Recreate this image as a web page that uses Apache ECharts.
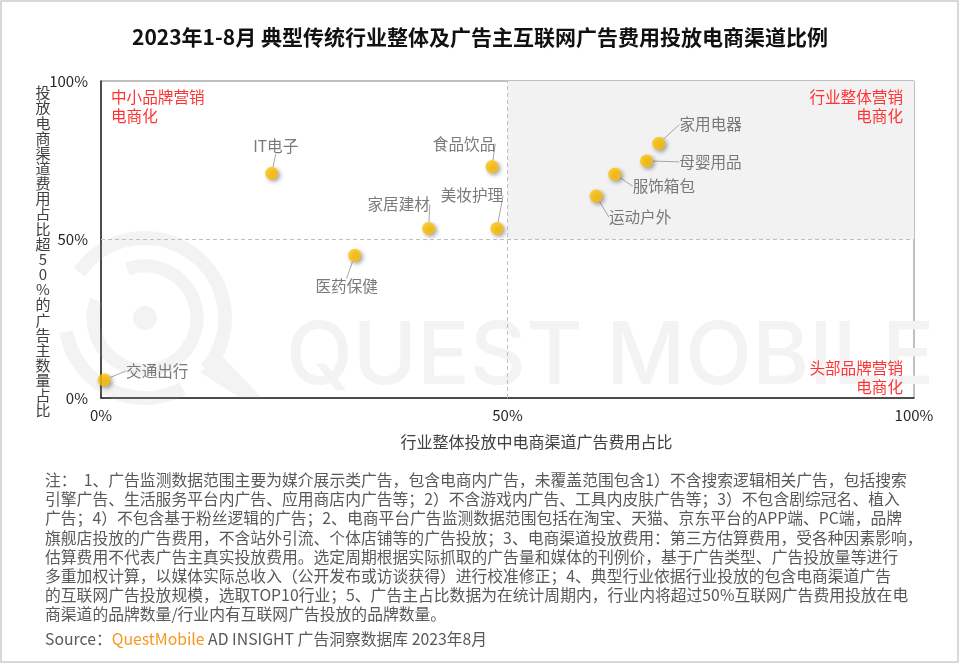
<!DOCTYPE html>
<html>
<head>
<meta charset="utf-8">
<script src="https://cdn.jsdelivr.net/npm/echarts@6/dist/echarts.min.js"></script>
<style>
html,body{margin:0;padding:0;background:#fff;}
#main{width:960px;height:664px;}
</style>
</head>
<body>
<div id="main"></div>
<script>
// ---- data ----
const categories = ['交通出行','IT电子','医药保健','家居建材','美妆护理','食品饮品','运动户外','服饰箱包','母婴用品','家用电器'];
const industryShare = [0.4, 21.0, 31.2, 40.3, 48.7, 48.1, 60.9, 63.2, 67.1, 68.6];   // x: 行业整体投放中电商渠道广告费用占比 (%)
const advertiserShare = [5.7, 70.9, 45.0, 53.5, 53.5, 73.0, 63.7, 70.6, 74.8, 80.3]; // y: 广告主数量占比 (%)
const axisTicks = [0, 50, 100];
const threshold = 50;

// label offsets (layout only)
const labelOffsets = [[53,-9],[4,-27],[-8,31],[-30,-24],[-25,-33],[-28,-23],[44,21],[49,12],[64,1],[52,-19]];

const titleText = '2023年1-8月 典型传统行业整体及广告主互联网广告费用投放电商渠道比例';
const xName = '行业整体投放中电商渠道广告费用占比';
const yName = '投放电商渠道费用占比超50%的广告主数量占比';
const quadrantTexts = ['中小品牌营销\n电商化', '行业整体营销\n电商化', '头部品牌营销\n电商化'];
const noteLines = [
  '注：  1、广告监测数据范围主要为媒介展示类广告，包含电商内广告，未覆盖范围包含1）不含搜索逻辑相关广告，包括搜索',
  '引擎广告、生活服务平台内广告、应用商店内广告等；2）不含游戏内广告、工具内皮肤广告等；3）不包含剧综冠名、植入',
  '广告；4）不包含基于粉丝逻辑的广告；2、电商平台广告监测数据范围包括在淘宝、天猫、京东平台的APP端、PC端，品牌',
  '旗舰店投放的广告费用，不含站外引流、个体店铺等的广告投放；3、电商渠道投放费用：第三方估算费用，受各种因素影响，',
  '估算费用不代表广告主真实投放费用。选定周期根据实际抓取的广告量和媒体的刊例价，基于广告类型、广告投放量等进行',
  '多重加权计算，以媒体实际总收入（公开发布或访谈获得）进行校准修正；4、典型行业依据行业投放的包含电商渠道广告',
  '的互联网广告投放规模，选取TOP10行业；5、广告主占比数据为在统计周期内，行业内将超过50%互联网广告费用投放在电',
  '商渠道的品牌数量/行业内有互联网广告投放的品牌数量。'
];

const FONT = "'Noto Sans CJK SC','Noto Sans',sans-serif";
const chart = echarts.init(document.getElementById('main'), null, {renderer: 'canvas'});

const wm = '#f3f3f3';
const graphics = [
  // outer frame
  {type:'rect', z:0, shape:{x:1,y:1,width:957,height:661}, style:{fill:'none', stroke:'#cccccc', lineWidth:1.5}, silent:true},
  // watermark logo
  {type:'circle', z:0, shape:{cx:145, cy:318, r:12}, style:{fill:wm}, silent:true},
  {type:'arc', z:0, shape:{cx:145, cy:318, r:52, startAngle:-110*Math.PI/180, endAngle:200*Math.PI/180, clockwise:true}, style:{stroke:wm, lineWidth:13, fill:'none'}, silent:true},
  {type:'arc', z:0, shape:{cx:145, cy:318, r:80, startAngle:215*Math.PI/180, endAngle:(360+40)*Math.PI/180, clockwise:true}, style:{stroke:wm, lineWidth:14, fill:'none'}, silent:true},
  {type:'arc', z:0, shape:{cx:145, cy:318, r:80, startAngle:62*Math.PI/180, endAngle:170*Math.PI/180, clockwise:true}, style:{stroke:wm, lineWidth:14, fill:'none'}, silent:true},
  {type:'polygon', z:0, shape:{points:[[200,372],[222,356],[262,398],[240,398]]}, style:{fill:wm}, silent:true},
  // watermark text
  {type:'text', z:0, left:286, top:314, silent:true, style:{text:'QUEST MOBILE', fill:wm, font:"500 87px Inter, Roboto, sans-serif"}},
  // y axis title (vertical stacked)
  {type:'text', z:5, silent:true, x:43, y:85, style:{text:yName.split('').join('\n'), fill:'#404040', font:'15px '+FONT, lineHeight:15.15, align:'center', verticalAlign:'top'}},
  // quadrant notes
  {type:'text', z:5, silent:true, x:111, y:88, style:{text:quadrantTexts[0], fill:'#ff3333', font:'15.6px '+FONT, lineHeight:18.5, align:'left', verticalAlign:'top'}},
  {type:'text', z:5, silent:true, x:903, y:88, style:{text:quadrantTexts[1], fill:'#ff3333', font:'15.6px '+FONT, lineHeight:18.5, align:'right', verticalAlign:'top'}},
  {type:'text', z:5, silent:true, x:903, y:359, style:{text:quadrantTexts[2], fill:'#ff3333', font:'15.6px '+FONT, lineHeight:18.5, align:'right', verticalAlign:'top'}}
];
const noteY = [480, 499.2, 518.4, 537.6, 556.8, 576, 595.2, 614.4];
noteLines.forEach((t, i) => {
  graphics.push({type:'text', z:5, silent:true, x:45, y:noteY[i], style:{text:t, fill:'#595959', font:'15.8px '+FONT, align:'left', verticalAlign:'middle'}});
});
graphics.push({type:'text', z:5, silent:true, x:45, y:639, style:{
  text:'{g|Source：}{o|QuestMobile}{g| AD INSIGHT 广告洞察数据库 2023年8月}',
  align:'left', verticalAlign:'middle',
  rich:{ g:{fill:'#595959', font:'15.8px '+FONT}, o:{fill:'#f7981d', font:'15.8px '+FONT} }
}});

const option = {
  animation: false,
  textStyle: {fontFamily: FONT},
  title: {
    text: titleText, left: 'center', top: 22,
    textStyle: {fontSize: 21, fontWeight: 'bold', color: '#111', fontFamily: FONT}
  },
  grid: {left: 101, right: 46, top: 81, bottom: 266, show: true, borderColor: '#808080', borderWidth: 1, backgroundColor: 'transparent'},
  xAxis: {
    type: 'value', min: axisTicks[0], max: axisTicks[axisTicks.length-1], interval: axisTicks[1]-axisTicks[0],
    name: xName, nameLocation: 'middle', nameGap: 36,
    nameTextStyle: {fontSize: 16, color: '#404040', padding: [0,0,0,58]},
    axisLine: {lineStyle: {color: '#262626', width: 1.5}},
    axisTick: {show: false}, splitLine: {show: false},
    axisLabel: {formatter: '{value}%', fontSize: 15, color: '#262626', margin: 10, fontFamily: FONT}
  },
  yAxis: {
    type: 'value', min: axisTicks[0], max: axisTicks[axisTicks.length-1], interval: axisTicks[1]-axisTicks[0],
    axisLine: {show: true, lineStyle: {color: '#262626', width: 1.5}},
    axisTick: {show: false}, splitLine: {show: false},
    axisLabel: {formatter: '{value}%', fontSize: 15, color: '#262626', margin: 13, fontFamily: FONT}
  },
  graphic: graphics,
  series: [
    {
      type: 'line', data: [], z: 1, silent: true,
      markArea: {
        silent: true,
        itemStyle: {color: '#f2f2f2'},
        data: [[{xAxis: threshold, yAxis: threshold}, {xAxis: axisTicks[2], yAxis: axisTicks[2]}]]
      },
      markLine: {
        silent: true, symbol: 'none', label: {show: false},
        lineStyle: {color: '#bfbfbf', type: [4, 3], width: 1},
        data: [{xAxis: threshold}, {yAxis: threshold}]
      }
    },
    {
      type: 'scatter', z: 4,
      symbolSize: 13,
      itemStyle: {color: '#ffc000', shadowBlur: 4, shadowColor: 'rgba(0,0,0,0.45)', shadowOffsetX: 2, shadowOffsetY: 2},
      label: {show: true, position: 'inside', formatter: '{b}', fontSize: 15.6, color: '#595959', fontFamily: FONT},
      labelLine: {show: true, lineStyle: {color: '#a6a6a6', width: 1}},
      labelLayout: function (p) {
        const o = labelOffsets[p.dataIndex];
        return {dx: o[0], dy: o[1]};
      },
      data: categories.map((c, i) => ({name: c, value: [industryShare[i], advertiserShare[i]]}))
    }
  ]
};
chart.setOption(option);
</script>
</body>
</html>
